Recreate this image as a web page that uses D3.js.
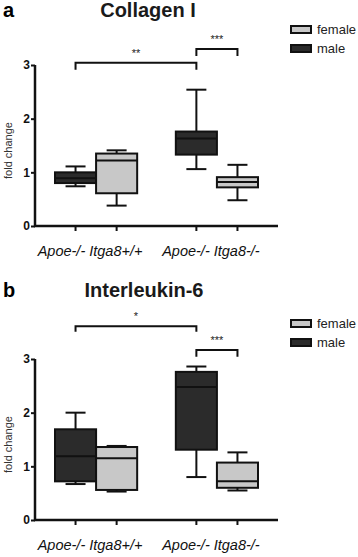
<!DOCTYPE html>
<html>
<head>
<meta charset="utf-8">
<script src="https://cdn.jsdelivr.net/npm/d3@7"></script>
<style>
  body { margin: 0; background: #fff; }
  svg { display: block; font-family: Arial, "Liberation Sans", sans-serif; }
</style>
</head>
<body>
<div id="chart"></div>
<script>
// groups and sexes
const groups = ["Apoe-/- Itga8+/+", "Apoe-/- Itga8-/-"];
const sexes = ["male", "female"];
const legendSexes = ["female", "male"];
const yTicks = [0, 1, 2, 3];

// box stats: [min, q1, median, q3, max] per group, per sex
const collagenMale = [[0.74, 0.80, 0.89, 1.00, 1.11], [1.06, 1.33, 1.63, 1.76, 2.54]];
const collagenFemale = [[0.38, 0.61, 1.22, 1.35, 1.41], [0.48, 0.72, 0.82, 0.91, 1.14]];
const il6Male = [[0.67, 0.72, 1.19, 1.69, 2.00], [0.80, 1.31, 2.48, 2.76, 2.86]];
const il6Female = [[0.53, 0.56, 1.15, 1.36, 1.38], [0.55, 0.60, 0.72, 1.07, 1.26]];

// significance brackets: from, to, top value, leg value, label
const collagenSig = [
    { from: [0, "male"], to: [1, "male"], top: 3.04, leg: 2.91, label: "**" },
    { from: [1, "male"], to: [1, "female"], top: 3.30, leg: 3.17, label: "***" }
];
const il6Sig = [
    { from: [0, "male"], to: [1, "male"], top: 3.61, leg: 3.51, label: "*" },
    { from: [1, "male"], to: [1, "female"], top: 3.17, leg: 3.04, label: "***" }
];

const width = 358;
const height = 557;
const colors = { male: "#2b2b2b", female: "#c8c8c8" };

const svg = d3.select("#chart")
    .append("svg")
    .attr("width", width)
    .attr("height", height);

function drawPanel(cfg) {
    const g = svg.append("g").attr("transform", `translate(0,${cfg.offsetY})`);
    const top = 65, bottom = 226, left = 35, right = 278;

    const y = d3.scaleLinear().domain([0, 3]).range([bottom, top]);
    const xGroup = d3.scaleBand().domain([0, 1]).range([55, 258]).paddingInner(0.32);
    const xSex = d3.scaleBand().domain(sexes).range([0, xGroup.bandwidth()]);
    const cx = (gi, s) => xGroup(gi) + xSex(s) + xSex.bandwidth() / 2;

    // panel letter and title
    g.append("text")
        .attr("x", 3).attr("y", cfg.titleY)
        .attr("font-size", 20).attr("font-weight", "bold")
        .text(cfg.letter);
    g.append("text")
        .attr("x", cfg.titleX).attr("y", cfg.titleY)
        .attr("text-anchor", "middle")
        .attr("font-size", 20).attr("font-weight", "bold")
        .attr("fill", "#1a1a1a")
        .text(cfg.title);

    // y axis
    const yAxis = g.append("g")
        .attr("transform", `translate(${left},0)`)
        .call(d3.axisLeft(y).tickValues(yTicks).tickFormat(d3.format("d")).tickSizeOuter(0).tickSize(4));
    yAxis.select(".domain").attr("stroke", "#111").attr("stroke-width", 2.5)
        .attr("d", `M0,${bottom}V${top}`);
    yAxis.selectAll(".tick line").attr("stroke", "#111").attr("stroke-width", 2);
    yAxis.selectAll(".tick text")
        .attr("font-size", 12).attr("font-weight", "bold")
        .attr("font-family", "Arial, 'Liberation Sans', sans-serif")
        .attr("fill", "#111").attr("x", -5);

    g.append("text")
        .attr("transform", `translate(12,${(top + bottom) / 2 + 5}) rotate(-90)`)
        .attr("text-anchor", "middle")
        .attr("font-size", 11)
        .attr("fill", "#333")
        .text("fold change");

    // x axis line and ticks
    g.append("line")
        .attr("x1", left - 1).attr("x2", right)
        .attr("y1", bottom).attr("y2", bottom)
        .attr("stroke", "#111").attr("stroke-width", 2.5);
    const tickPos = [];
    groups.forEach((_, gi) => sexes.forEach(s => tickPos.push(cx(gi, s))));
    g.selectAll(".xtick")
        .data(tickPos)
        .enter()
        .append("line")
        .attr("x1", d => d).attr("x2", d => d)
        .attr("y1", bottom).attr("y2", bottom + 5)
        .attr("stroke", "#111").attr("stroke-width", 2);

    g.selectAll(".xlabel")
        .data(groups)
        .enter()
        .append("text")
        .attr("x", (d, i) => xGroup(i) + xGroup.bandwidth() / 2 - 6)
        .attr("y", bottom + 30)
        .attr("text-anchor", "middle")
        .attr("font-size", 14.5)
        .attr("font-style", "italic")
        .attr("fill", "#111")
        .text(d => d);

    // boxes
    const boxes = [];
    groups.forEach((_, gi) => {
        boxes.push({ gi, sex: "male", v: cfg.male[gi] });
        boxes.push({ gi, sex: "female", v: cfg.female[gi] });
    });
    const bw = xSex.bandwidth();
    const capHalf = 10;
    const box = g.selectAll(".box")
        .data(boxes)
        .enter()
        .append("g")
        .attr("class", "box");

    box.append("line")
        .attr("x1", d => cx(d.gi, d.sex)).attr("x2", d => cx(d.gi, d.sex))
        .attr("y1", d => y(d.v[0])).attr("y2", d => y(d.v[4]))
        .attr("stroke", "#111").attr("stroke-width", 2);
    box.append("line")
        .attr("x1", d => cx(d.gi, d.sex) - capHalf).attr("x2", d => cx(d.gi, d.sex) + capHalf)
        .attr("y1", d => y(d.v[0])).attr("y2", d => y(d.v[0]))
        .attr("stroke", "#111").attr("stroke-width", 2);
    box.append("line")
        .attr("x1", d => cx(d.gi, d.sex) - capHalf).attr("x2", d => cx(d.gi, d.sex) + capHalf)
        .attr("y1", d => y(d.v[4])).attr("y2", d => y(d.v[4]))
        .attr("stroke", "#111").attr("stroke-width", 2);
    box.append("rect")
        .attr("x", d => xGroup(d.gi) + xSex(d.sex))
        .attr("width", bw)
        .attr("y", d => y(d.v[3]))
        .attr("height", d => y(d.v[1]) - y(d.v[3]))
        .attr("fill", d => colors[d.sex])
        .attr("stroke", "#111").attr("stroke-width", 2);
    box.append("line")
        .attr("x1", d => xGroup(d.gi) + xSex(d.sex)).attr("x2", d => xGroup(d.gi) + xSex(d.sex) + bw)
        .attr("y1", d => y(d.v[2])).attr("y2", d => y(d.v[2]))
        .attr("stroke", "#111").attr("stroke-width", 2);

    // significance brackets
    const sig = g.selectAll(".sig")
        .data(cfg.sig)
        .enter()
        .append("g");
    sig.append("path")
        .attr("d", d => {
            const x1 = cx(d.from[0], d.from[1]);
            const x2 = cx(d.to[0], d.to[1]);
            return `M${x1},${y(d.leg)}V${y(d.top)}H${x2}V${y(d.leg)}`;
        })
        .attr("fill", "none")
        .attr("stroke", "#111").attr("stroke-width", 2);
    sig.append("text")
        .attr("x", d => (cx(d.from[0], d.from[1]) + cx(d.to[0], d.to[1])) / 2)
        .attr("y", d => y(d.top) - 6)
        .attr("text-anchor", "middle")
        .attr("font-size", 11)
        .attr("fill", "#222")
        .text(d => d.label);

    // legend
    const leg = g.selectAll(".legend")
        .data(legendSexes)
        .enter()
        .append("g")
        .attr("transform", (d, i) => `translate(291,${top - 39 + i * 19})`);
    leg.append("rect")
        .attr("width", 20).attr("height", 7)
        .attr("fill", d => colors[d])
        .attr("stroke", "#111").attr("stroke-width", 2);
    leg.append("text")
        .attr("x", 26).attr("y", 8)
        .attr("font-size", 13)
        .attr("fill", "#222")
        .text(d => d);
}

drawPanel({ offsetY: 0, letter: "a", title: "Collagen I", titleX: 148, titleY: 17,
    male: collagenMale, female: collagenFemale, sig: collagenSig });
drawPanel({ offsetY: 294, letter: "b", title: "Interleukin-6", titleX: 144, titleY: 3,
    male: il6Male, female: il6Female, sig: il6Sig });
</script>
</body>
</html>
